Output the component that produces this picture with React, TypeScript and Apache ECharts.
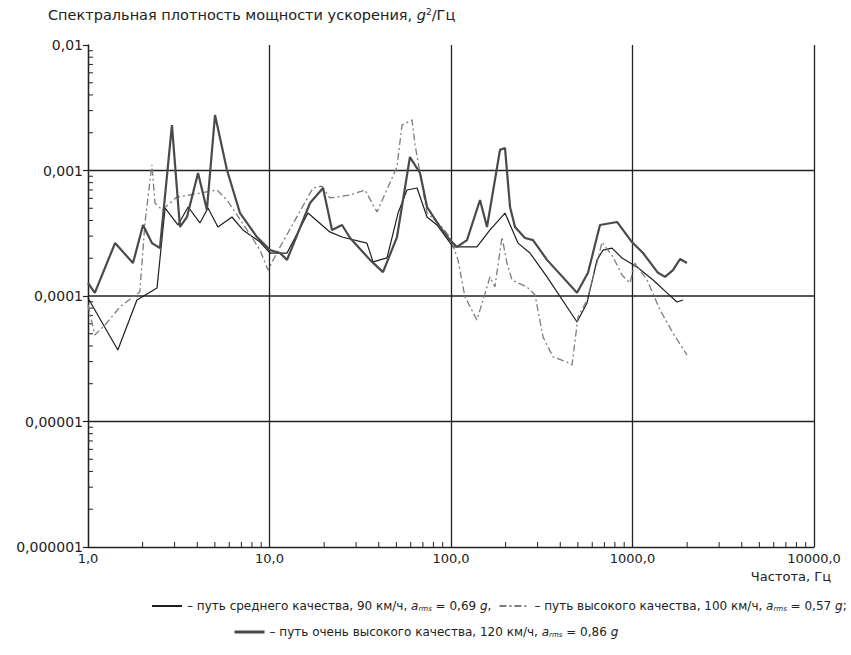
import React, { useEffect, useRef } from "react";
import * as echarts from "echarts";

// Путь среднего качества, 90 км/ч (тонкая тёмная линия)
const avgFreq = [1.0, 1.46, 1.86, 2.4, 2.66, 3.13, 3.56, 4.14, 4.58, 5.2, 6.21, 7.14, 8.87, 10.07, 12.49, 16.3, 21.5, 25.1, 34.4, 37.2, 44.4, 51.1, 57.2, 65.0, 73.8, 83.7, 102.6, 139.0, 164.0, 198.4, 233.9, 272.4, 338, 494.7, 561.5, 637.1, 687.9, 770.9, 875.5, 1059, 1298, 1549, 1758, 1897];
const avgPsd = [0.0000964, 0.0000371, 0.0000929, 0.000116, 0.000502, 0.000368, 0.000512, 0.000382, 0.000502, 0.000355, 0.000426, 0.000336, 0.000269, 0.00022, 0.00022, 0.000458, 0.000324, 0.000295, 0.000264, 0.000187, 0.000201, 0.000458, 0.000699, 0.000725, 0.000426, 0.000368, 0.000246, 0.000246, 0.000336, 0.000458, 0.000264, 0.00022, 0.000142, 0.0000621, 0.0000879, 0.000194, 0.000232, 0.000241, 0.000201, 0.00017, 0.000134, 0.000106, 0.0000896, 0.0000929];

// Путь высокого качества, 100 км/ч (штрихпунктир)
const highFreq = [1.0, 1.09, 1.24, 1.5, 1.93, 2.06, 2.25, 2.34, 2.56, 3.09, 3.65, 5.14, 5.83, 7.52, 8.87, 9.81, 11.43, 17.36, 19.45, 21.5, 27.8, 33.6, 39.1, 50.4, 53.7, 61.0, 63.4, 73.8, 87.0, 98.7, 109.3, 119.4, 139.0, 150.1, 164.0, 174.6, 190.9, 203.5, 216.9, 262.2, 290.4, 321.5, 364.8, 435.5, 464.2, 500.9, 561.5, 637.1, 679, 780.8, 875.5, 968.5, 1032, 1203, 1418, 1671, 1995];
const highPsd = [0.0000848, 0.0000489, 0.0000587, 0.0000818, 0.000108, 0.000382, 0.00111, 0.000551, 0.000485, 0.000615, 0.000638, 0.000699, 0.000582, 0.000336, 0.000232, 0.000161, 0.000246, 0.000725, 0.000752, 0.000604, 0.000638, 0.000699, 0.000467, 0.00107, 0.0023, 0.00253, 0.0016, 0.000458, 0.000368, 0.000295, 0.000194, 0.0000983, 0.0000644, 0.0000929, 0.000142, 0.000118, 0.000295, 0.000183, 0.000134, 0.000118, 0.000102, 0.0000471, 0.0000327, 0.0000298, 0.0000282, 0.000068, 0.0000929, 0.000183, 0.000269, 0.000205, 0.000147, 0.000127, 0.000183, 0.000134, 0.0000774, 0.0000507, 0.0000339];

// Путь очень высокого качества, 120 км/ч (толстая линия)
const vhighFreq = [1.0, 1.09, 1.41, 1.77, 2.01, 2.25, 2.49, 2.9, 3.21, 3.51, 4.04, 4.52, 5.01, 5.83, 6.88, 8.53, 10.07, 11.43, 12.49, 16.72, 19.72, 22.1, 25.1, 27.8, 35.8, 42.2, 50.4, 59.4, 67.5, 73.8, 87.0, 98.7, 107.9, 122.5, 144.5, 157.9, 186.2, 198.4, 211.5, 225.2, 255.6, 283.1, 338, 494.7, 568.6, 661.9, 821.8, 993.2, 1143, 1382, 1510, 1671, 1827, 1995];
const vhighPsd = [0.000127, 0.000106, 0.000264, 0.000183, 0.000368, 0.000264, 0.000241, 0.0023, 0.000355, 0.000426, 0.000955, 0.000485, 0.00277, 0.00101, 0.000458, 0.000295, 0.000232, 0.00022, 0.000194, 0.000551, 0.000725, 0.000336, 0.000368, 0.00029, 0.000194, 0.000155, 0.000295, 0.00128, 0.000955, 0.000512, 0.000355, 0.000279, 0.000246, 0.000279, 0.000582, 0.000355, 0.00146, 0.00151, 0.000512, 0.000355, 0.00029, 0.000279, 0.000194, 0.000106, 0.000153, 0.000368, 0.000389, 0.000269, 0.00022, 0.000153, 0.000142, 0.000161, 0.000197, 0.000183];

const xMin = 1;
const xMax = 10000;
const yMin = 0.000001;
const yMax = 0.01;
const yGridValues = [0.001, 0.0001, 0.00001];
const minorMultipliers = [2, 3, 4, 5, 6, 7, 8, 9];
const xDecades = [1, 10, 100, 1000];
const yDecades = [0.000001, 0.00001, 0.0001, 0.001];

const NAME_AVG = "путь среднего качества, 90 км/ч";
const NAME_HIGH = "путь высокого качества, 100 км/ч";
const NAME_VHIGH = "путь очень высокого качества, 120 км/ч";

const legendTexts: Record<string, string> = {
  [NAME_AVG]: "– путь среднего качества, 90 км/ч, {i|a}{sub|rms} = 0,69 {i|g},",
  [NAME_HIGH]: "– путь высокого качества, 100 км/ч, {i|a}{sub|rms} = 0,57 {i|g};",
  [NAME_VHIGH]: "– путь очень высокого качества, 120 км/ч, {i|a}{sub|rms} = 0,86 {i|g}",
};

const FONT = '"DejaVu Sans", "Liberation Sans", Arial, sans-serif';
const INK = "#222";
const C_AVG = "#1e1e1e";
const C_HIGH = "#7d7d7d";
const C_VHIGH = "#4a4a4a";

const zip = (a: number[], b: number[]) => a.map((v, i) => [v, b[i]]);

export default function App() {
  const ref = useRef<HTMLDivElement>(null);

  useEffect(() => {
    if (!ref.current) return;
    const chart = echarts.init(ref.current, undefined, { renderer: "svg" });

    const xTickData: number[][] = [];
    xDecades.forEach((d) => minorMultipliers.forEach((m) => xTickData.push([m * d, yMin])));
    const yTickData: number[][] = [];
    yDecades.forEach((d) => minorMultipliers.forEach((m) => yTickData.push([xMin, m * d])));
    const hGridData = yGridValues.map((v) => [xMin, v]);

    const richLegend = {
      i: { fontStyle: "italic", fontSize: 12, fontFamily: FONT, color: INK },
      sub: { fontStyle: "italic", fontSize: 7, fontFamily: FONT, color: INK, verticalAlign: "bottom", padding: [5, 0, 0, 0] },
    };

    const legendCommon = {
      itemWidth: 30,
      itemHeight: 10,
      itemStyle: { opacity: 0 },
      width: 760,
      formatter: (n: string) => legendTexts[n],
      textStyle: { color: INK, fontFamily: FONT, fontSize: 12, rich: richLegend },
    };

    const option: any = {
      animation: false,
      backgroundColor: "#fff",
      grid: { left: 88, right: 37, top: 45, bottom: 108, containLabel: false },
      xAxis: {
        type: "log",
        logBase: 10,
        min: xMin,
        max: xMax,
        axisLine: { show: true, lineStyle: { color: INK, width: 1.3 } },
        axisTick: { show: false },
        splitLine: { show: true, lineStyle: { color: INK, width: 1.3 } },
        axisLabel: {
          margin: 5,
          color: INK,
          fontFamily: FONT,
          fontSize: 13,
          formatter: (v: number) => v.toFixed(1).replace(".", ","),
        },
      },
      yAxis: {
        type: "log",
        logBase: 10,
        min: yMin,
        max: yMax,
        axisLine: { show: true, lineStyle: { color: INK, width: 1.3 } },
        axisTick: { show: true, inside: false, length: 5, lineStyle: { color: INK, width: 1.2 } },
        splitLine: { show: false },
        axisLabel: {
          margin: 5,
          color: INK,
          fontFamily: FONT,
          fontSize: 14,
          formatter: (v: number) => {
            const e = Math.round(Math.log10(v));
            return "0," + "0".repeat(-e - 1) + "1";
          },
        },
      },
      legend: [
        { ...legendCommon, data: [NAME_AVG, NAME_HIGH], left: 146, top: 595, itemGap: 7 },
        {
          ...legendCommon,
          data: [NAME_VHIGH],
          left: 228,
          top: 621,
          lineStyle: { width: 3, color: C_VHIGH },
        },
      ],
      graphic: [
        {
          type: "text",
          left: 48,
          top: 7,
          style: {
            text: "Спектральная плотность мощности ускорения, {i|g}{sup|2}/Гц",
            fill: INK,
            font: `14.5px ${FONT}`,
            rich: {
              i: { fontStyle: "italic", fontSize: 14.5, fontFamily: FONT, fill: INK },
              sup: { fontSize: 9, fontFamily: FONT, fill: INK, verticalAlign: "top", padding: [0, 0, 6, 0] },
            },
          },
        },
        {
          type: "text",
          right: 20,
          top: 570,
          style: { text: "Частота, Гц", fill: INK, font: `13px ${FONT}` },
        },
      ],
      series: [
        {
          name: "hGrid",
          type: "custom",
          silent: true,
          clip: false,
          data: hGridData,
          encode: { x: 0, y: 1 },
          renderItem: (_p: any, api: any) => {
            const a = api.coord([xMin, api.value(1)]);
            const b = api.coord([xMax, api.value(1)]);
            return {
              type: "line",
              shape: { x1: a[0], y1: a[1], x2: b[0], y2: b[1] },
              style: { stroke: INK, lineWidth: 1.3 },
            };
          },
        },
        {
          name: "xMinorTicks",
          type: "custom",
          silent: true,
          clip: false,
          data: xTickData,
          encode: { x: 0, y: 1 },
          renderItem: (_p: any, api: any) => {
            const pt = api.coord([api.value(0), api.value(1)]);
            return {
              type: "line",
              shape: { x1: pt[0], y1: pt[1], x2: pt[0], y2: pt[1] - 5 },
              style: { stroke: INK, lineWidth: 1 },
            };
          },
        },
        {
          name: "yMinorTicks",
          type: "custom",
          silent: true,
          clip: false,
          data: yTickData,
          encode: { x: 0, y: 1 },
          renderItem: (_p: any, api: any) => {
            const pt = api.coord([api.value(0), api.value(1)]);
            return {
              type: "line",
              shape: { x1: pt[0], y1: pt[1], x2: pt[0] + 5, y2: pt[1] },
              style: { stroke: INK, lineWidth: 1 },
            };
          },
        },
        {
          name: NAME_AVG,
          type: "line",
          symbol: "none",
          data: zip(avgFreq, avgPsd),
          lineStyle: { color: C_AVG, width: 1.2 },
          itemStyle: { color: C_AVG },
          emphasis: { disabled: true },
        },
        {
          name: NAME_HIGH,
          type: "line",
          symbol: "none",
          data: zip(highFreq, highPsd),
          lineStyle: { color: C_HIGH, width: 1.3, type: [7, 3, 2, 3] },
          itemStyle: { color: C_HIGH },
          emphasis: { disabled: true },
        },
        {
          name: NAME_VHIGH,
          type: "line",
          symbol: "none",
          data: zip(vhighFreq, vhighPsd),
          lineStyle: { color: C_VHIGH, width: 2.2 },
          itemStyle: { color: C_VHIGH },
          emphasis: { disabled: true },
        },
      ],
    };

    chart.setOption(option);
    return () => chart.dispose();
  }, []);

  return (
    <div
      ref={ref}
      style={{ position: "fixed", left: 0, top: 0, width: 851, height: 655, background: "#fff" }}
    />
  );
}
